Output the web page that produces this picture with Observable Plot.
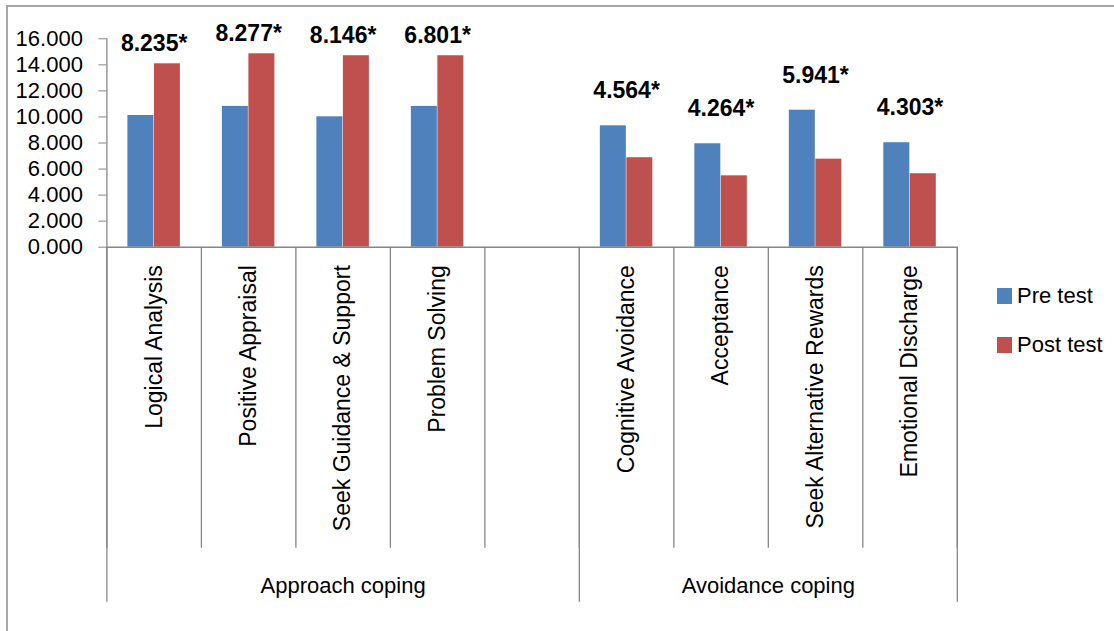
<!DOCTYPE html>
<html><head><meta charset="utf-8">
<script src="https://cdn.jsdelivr.net/npm/d3@7"></script>
<script src="https://cdn.jsdelivr.net/npm/@observablehq/plot@0.6"></script>
<style>
body{margin:0;background:#fff;font-family:"Liberation Sans",Arial,sans-serif;}
#wrap{position:relative;width:1114px;height:631px;overflow:hidden;background:#fff;}
#frame{position:absolute;left:6px;top:5px;width:1200px;height:700px;border:2px solid #a6a6a6;box-sizing:border-box;}
#chart{position:absolute;left:0;top:0;}
#legend{position:absolute;left:997px;top:0;font-size:22px;color:#000;}
.item{position:absolute;left:0;display:flex;align-items:center;height:32px;white-space:nowrap;}
.sw{width:15px;height:16px;margin-right:5px;}
</style></head><body>
<div id="wrap"><div id="frame"></div><div id="chart"></div><div id="legend"></div></div>
<script>
const approachCategories = ["Logical Analysis", "Positive Appraisal", "Seek Guidance & Support", "Problem Solving"];
const avoidanceCategories = ["Cognitive Avoidance", "Acceptance", "Seek Alternative Rewards", "Emotional Discharge"];
const groupNames = ["Approach coping", "Avoidance coping"];
const preTest = [10.11, 10.81, 10.01, 10.81, 9.32, 7.94, 10.52, 8.02];
const postTest = [14.08, 14.85, 14.70, 14.70, 6.87, 5.48, 6.76, 5.64];
const tValues = ["8.235*", "8.277*", "8.146*", "6.801*", "4.564*", "4.264*", "5.941*", "4.303*"];
const seriesNames = ["Pre test", "Post test"];
const seriesColors = ["#4F81BD", "#C0504D"];
const yTicks = [0, 2, 4, 6, 8, 10, 12, 14, 16];

// Build slot table: approach categories, one blank slot, then avoidance categories
const rows = [];
approachCategories.forEach((c, i) => rows.push({slot: i, category: c, group: 0, pre: preTest[i], post: postTest[i], t: tValues[i]}));
const avoidStart = approachCategories.length + 1;
avoidanceCategories.forEach((c, j) => {
  const k = approachCategories.length + j;
  rows.push({slot: avoidStart + j, category: c, group: 1, pre: preTest[k], post: postTest[k], t: tValues[k]});
});
const nSlots = avoidStart + avoidanceCategories.length;
const groupSpans = [
  {name: groupNames[0], start: 0, end: avoidStart},
  {name: groupNames[1], start: avoidStart, end: nSlots}
];
const boundaries = d3.range(nSlots + 1);
const groupBoundaries = [0, avoidStart, nSlots];
const axisColor = "#868686";

const plot = Plot.plot({
  width: 1114, height: 631,
  marginLeft: 106.4, marginRight: 157.2, marginTop: 38.3, marginBottom: 384.3,
  style: {fontFamily: "'Liberation Sans', Arial, sans-serif", fontSize: "22px", color: "#000", background: "transparent", overflow: "visible"},
  x: {domain: [0, nSlots], axis: null},
  y: {domain: [0, 16], axis: null},
  marks: [
    Plot.rect(rows, {x1: "slot", x2: d => d.slot + 1, y1: 0, y2: "pre", fill: seriesColors[0], insetLeft: 21, insetRight: 47.5}),
    Plot.rect(rows, {x1: "slot", x2: d => d.slot + 1, y1: 0, y2: "post", fill: seriesColors[1], insetLeft: 47.5, insetRight: 21}),
    Plot.ruleX(boundaries, {x: d => d, y1: 0, y2: 0, insetBottom: -301, stroke: axisColor, strokeWidth: 1.3}),
    Plot.ruleX(groupBoundaries, {x: d => d, y1: 0, y2: 0, insetBottom: -355, stroke: axisColor, strokeWidth: 1.3}),
    Plot.ruleY([0], {stroke: axisColor, strokeWidth: 1.5}),
    Plot.ruleX([0], {stroke: axisColor, strokeWidth: 1.3}),
    Plot.axisY({ticks: yTicks, tickFormat: d3.format(".3f"), tickSize: 8, tickPadding: 16, stroke: axisColor, fontSize: 22}),
    Plot.text(rows, {x: d => d.slot + 0.5, y: 0, text: "category", rotate: -90, textAnchor: "end", dy: 18, fontSize: 23}),
    Plot.text(rows, {filter: d => d.group === 0, x: d => d.slot + 0.5, y: d => Math.max(d.pre, d.post), text: "t", dy: -20, fontWeight: "bold", fontSize: 23}),
    Plot.text(rows, {filter: d => d.group === 1, x: d => d.slot + 0.5, y: d => Math.max(d.pre, d.post), text: "t", dy: -35, fontWeight: "bold", fontSize: 23}),
    Plot.text(groupSpans, {x: d => (d.start + d.end) / 2, y: 0, text: "name", dy: 339, fontSize: 22})
  ]
});
document.getElementById("chart").appendChild(plot);

const legend = document.getElementById("legend");
const legendTops = [280, 329];
seriesNames.forEach((name, i) => {
  const item = document.createElement("div");
  item.className = "item";
  item.style.top = legendTops[i] + "px";
  const sw = document.createElement("span");
  sw.className = "sw";
  sw.style.background = seriesColors[i];
  const lab = document.createElement("span");
  lab.textContent = name;
  item.appendChild(sw);
  item.appendChild(lab);
  legend.appendChild(item);
});
</script>
</body></html>
